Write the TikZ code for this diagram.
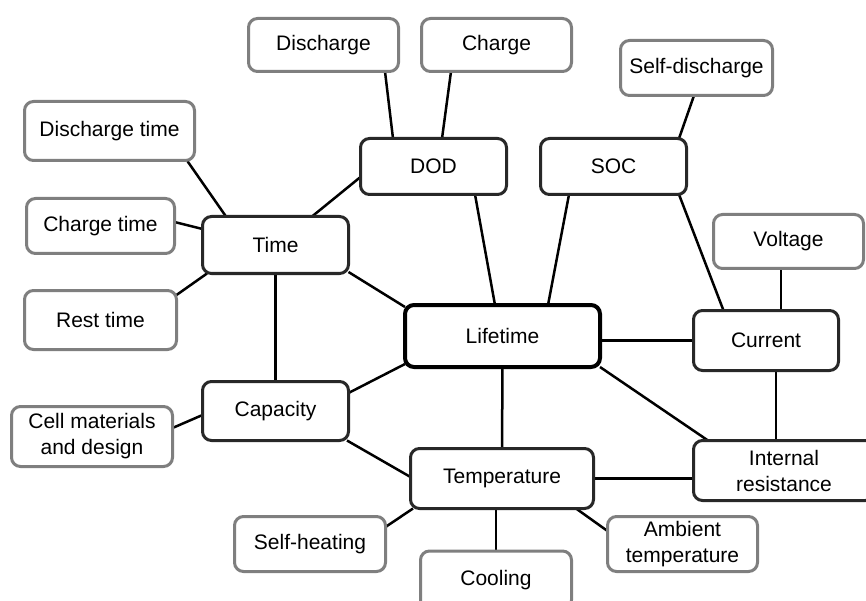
\documentclass[tikz,border=0pt]{standalone}
\usepackage{fontspec}
\setmainfont{Liberation Sans}
\usetikzlibrary{calc,backgrounds}
\definecolor{subgrey}{HTML}{7F7F7F}
\definecolor{maindark}{HTML}{282828}
\begin{document}
\begin{tikzpicture}[x=1pt,y=-1pt,
  box/.style={rounded corners=9pt, fill=white, inner sep=0pt, outer sep=0pt, align=center,
    font=\fontsize{21}{26}\selectfont, line width=3pt},
  sub/.style={box, draw=subgrey},
  mainbox/.style={box, draw=maindark},
  hub/.style={box, draw=black, line width=4pt},
  sz/.style 2 args={minimum width=#1pt, minimum height=#2pt},
  link/.style={line width=2.5pt, draw=black}]
\useasboundingbox (0,0) rectangle (866,601);
\clip (0,0) rectangle (866,601);
% secondary boxes
\node[sub, sz={150}{53}] (discharge) at (323.5,45) {Discharge};
\node[sub, sz={150}{53}] (charge) at (496.5,45) {Charge};
\node[sub, sz={152}{55}] (selfdis) at (696.5,68) {Self-discharge};
\node[sub, sz={170}{59}] (distime) at (109.5,131) {Discharge time};
\node[sub, sz={148}{55}] (chtime) at (100.5,226) {Charge time};
\node[sub, sz={150}{54}] (voltage) at (788.5,241.5) {Voltage};
\node[sub, sz={152}{59}] (rest) at (100.5,320) {Rest time};
\node[sub, sz={161}{60}] (cell) at (92,436.5) {Cell materials\\and design};
\node[sub, sz={151}{55}] (selfheat) at (310,544) {Self-heating};
\node[sub, sz={150}{55}] (ambient) at (682.5,544) {Ambient\\temperature};
\node[sub, sz={151}{58}] (cooling) at (496,580) {Cooling};
% primary boxes
\node[mainbox, sz={146}{56}] (dod) at (433.5,166.5) {DOD};
\node[mainbox, sz={146}{56}] (soc) at (613.5,166.5) {SOC};
\node[mainbox, sz={146}{57}] (time) at (275.5,245) {Time};
\node[mainbox, sz={145}{60}] (current) at (766,340.5) {Current};
\node[mainbox, sz={146}{59}] (capacity) at (275.5,411) {Capacity};
\node[mainbox, sz={183}{60}] (temp) at (502,478.5) {Temperature};
\node[mainbox, sz={181}{60}] (ir) at (784,470.5) {Internal\\resistance};
\node[hub, sz={195}{62}] (life) at (502.5,336) {Lifetime};
% connectors
\begin{scope}[on background layer]
\draw[link] ($(discharge.south)+(61.5,0)$) -- ($(dod.north)+(-40.5,0)$);
\draw[link] ($(charge.south)+(-45.5,0)$) -- ($(dod.north)+(8.5,0)$);
\draw[link] ($(selfdis.south)+(-2.5,0)$) -- ($(soc.north)+(65.5,0)$);
\draw[link] ($(soc.south)+(65.5,0)$) -- ($(current.north)+(-42.5,0)$);
\draw[link] ($(dod.south)+(41.5,0)$) -- ($(life.north)+(-7.5,0)$);
\draw[link] ($(soc.south)+(-44.5,0)$) -- ($(life.north)+(45.5,0)$);
\draw[link] ($(distime.south)+(77.5,0)$) -- ($(time.north)+(-49.5,0)$);
\draw[link] ($(chtime.east)+(0,-4)$) -- ($(time.west)+(0,-16)$);
\draw[link] ($(dod.west)+(0,10.5)$) -- ($(time.north)+(36.5,0)$);
\draw[link] ($(time.east)+(0,27)$) -- ($(life.west)+(0,-29)$);
\draw[link] ($(time.south)+(-68.5,0)$) -- ($(rest.east)+(0,-25)$);
\draw[link] (time.south) -- (capacity.north);
\draw[link] ($(capacity.east)+(0,-18)$) -- ($(life.west)+(0,28)$);
\draw[link] ($(cell.east)+(0,-8.5)$) -- ($(capacity.west)+(0,4)$);
\draw[link] ($(capacity.south)+(71.5,0)$) -- ($(temp.west)+(0,-1.5)$);
\draw[link] (life.south) -- (temp.north);
\draw[link] (current.west -| life.east) -- (current.west);
\draw[link] ($(life.east)+(0,31)$) -- ($(ir.north)+(-76,0)$);
\draw[link] ($(current.south)+(10,0)$) -- ($(ir.north)+(-8,0)$);
\draw[link] ($(voltage.south)+(-7.5,0)$) -- ($(current.north)+(15,0)$);
\draw[link] (temp.east) -- (temp.east -| ir.west);
\draw[link] ($(temp.south)+(-89,0)$) -- ($(selfheat.east)+(0,-17)$);
\draw[link] (cooling.north) -- (cooling.north |- temp.south);
\draw[link] ($(temp.south)+(74,0)$) -- ($(ambient.west)+(0,-13)$);
\end{scope}
\end{tikzpicture}
\end{document}
